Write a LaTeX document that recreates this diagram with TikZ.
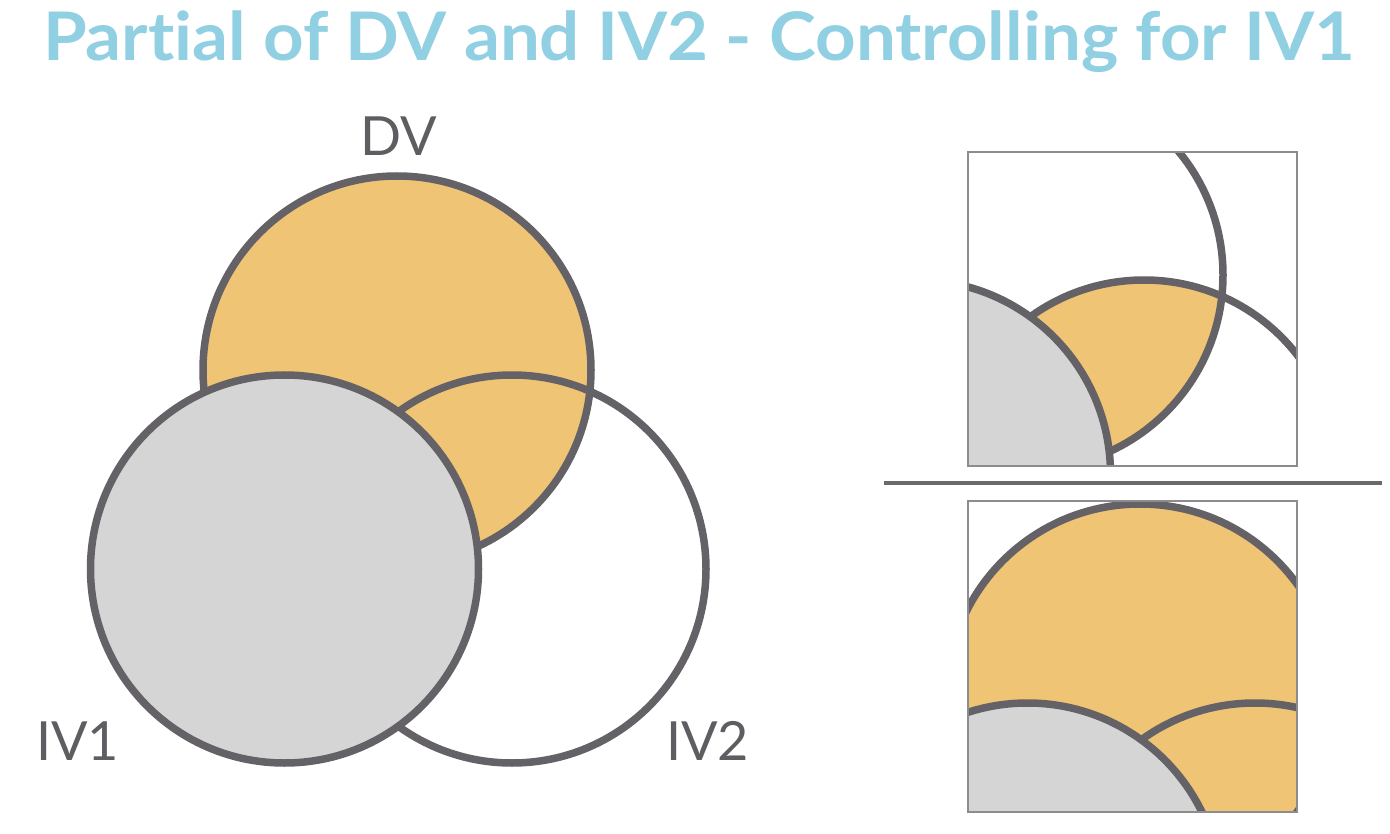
\documentclass[tikz,border=0pt]{standalone}
\usepackage{fontspec}
\setmainfont{Lato}[Ligatures=NoCommon]
\newfontfamily\titlefont{Lato}[Ligatures=NoCommon, FakeStretch=1.056]
\definecolor{titleblue}{HTML}{90D0E2}
\definecolor{ringgray}{HTML}{646267}
\definecolor{vennorange}{HTML}{EFC475}
\definecolor{venngray}{HTML}{D5D5D5}
\definecolor{labelgray}{HTML}{5E5E62}
\definecolor{boxgray}{HTML}{8C8C8C}
\definecolor{divgray}{HTML}{6A6A6A}
\newcommand\placecircles[1]{%
  \coordinate (#1dv) at (397,370);
  \coordinate (#1ia) at (284.5,569);
  \coordinate (#1ib) at (512,569);}
\begin{document}
\begin{tikzpicture}[x=1pt,y=-1pt,
  ring/.style={draw=ringgray, line width=7.5pt},
  panelbox/.style={draw=boxgray, line width=2pt},
  divider/.style={draw=divgray, line width=4pt},
  lbl/.style={text=labelgray, font=\fontsize{54}{54}\selectfont, inner sep=0pt},
  ttl/.style={text=titleblue, font=\titlefont\fontsize{67}{67}\selectfont\bfseries, inner sep=0pt}]
\useasboundingbox (0,0) rectangle (1390,834);
\fill[white] (0,0) rectangle (1390,834);
% title
\node[ttl, anchor=base west] (title) at (43,61) {Part\kern0pt ial of DV and IV2 - Controlling for IV1};
% main Venn
\begin{scope}
  \placecircles{m}
  \fill[vennorange] (mdv) circle[radius=194pt];
  \draw[ring] (mdv) circle[radius=194pt];
  \draw[ring] (mib) circle[radius=194pt];
  \filldraw[ring, fill=venngray] (mia) circle[radius=194pt];
\end{scope}
\node[lbl, anchor=base] (dvlabel) at (399,156) {DV};
\node[lbl, anchor=base west] (ivalabel) at (36,760) {IV1};
\node[lbl, anchor=base west] (ivblabel) at (666,760) {IV2};
% top panel
\coordinate (tA) at (968,152);
\coordinate (tB) at (1297,466);
\begin{scope}
  \clip (tA) rectangle (tB);
  \begin{scope}[shift={(632,-95)}]
    \placecircles{t}
    \begin{scope}
      \clip (tdv) circle[radius=194pt];
      \fill[vennorange] (tib) circle[radius=194pt];
    \end{scope}
    \draw[ring] (tdv) circle[radius=194pt];
    \draw[ring] (tib) circle[radius=194pt];
    \filldraw[ring, fill=venngray] (tia) circle[radius=194pt];
  \end{scope}
\end{scope}
\draw[panelbox] (tA) rectangle (tB);
% divider
\coordinate (d1) at (884,483);
\coordinate (d2) at (1382,483);
\draw[divider] (d1) -- (d2);
% bottom panel
\coordinate (bA) at (968,501);
\coordinate (bB) at (1297,812);
\begin{scope}
  \clip (bA) rectangle (bB);
  \begin{scope}[shift={(743,328)}]
    \placecircles{b}
    \fill[vennorange] (bdv) circle[radius=194pt];
    \draw[ring] (bdv) circle[radius=194pt];
    \draw[ring] (bib) circle[radius=194pt];
    \filldraw[ring, fill=venngray] (bia) circle[radius=194pt];
  \end{scope}
\end{scope}
\draw[panelbox] (bA) rectangle (bB);
\end{tikzpicture}
\end{document}
